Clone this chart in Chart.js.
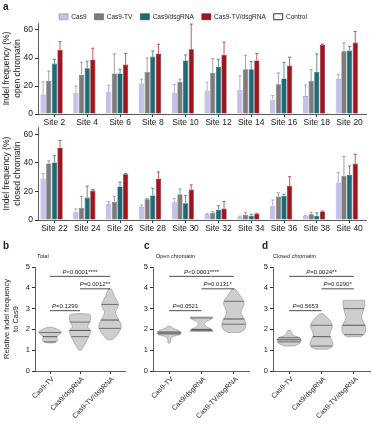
<!DOCTYPE html>
<html><head><meta charset="utf-8">
<script src="https://cdn.jsdelivr.net/npm/chart.js@4.4.0/dist/chart.umd.min.js"></script>
<style>
html,body{margin:0;padding:0;background:#fff;overflow:hidden;}
#wrap{position:relative;width:372px;height:430px;overflow:hidden;font-family:"Liberation Sans",Arial,sans-serif;color:#222;background:#fff;}
canvas{position:absolute;}
.lbl{position:absolute;line-height:1;white-space:nowrap;}
.pl{font-size:10px;font-weight:bold;}
.st{font-size:5.5px;}
</style></head><body>
<div id="wrap">
<canvas id="cOpen" width="406" height="132" style="left:0px;top:0px"></canvas>
<canvas id="cClosed" width="372" height="116" style="left:0px;top:120px"></canvas>
<canvas id="cTotal" width="128" height="190" style="left:0px;top:240px"></canvas>
<canvas id="cOpenV" width="130" height="190" style="left:120px;top:240px"></canvas>
<canvas id="cClosedV" width="132" height="190" style="left:240px;top:240px"></canvas>
<div class="lbl pl" style="left:3px;top:2px">a</div>
<div class="lbl pl" style="left:3px;top:241px">b</div>
<div class="lbl pl" style="left:144px;top:241px">c</div>
<div class="lbl pl" style="left:262px;top:241px">d</div>
<div class="lbl st" style="left:37px;top:254px">Total</div>
<div class="lbl st" style="left:156px;top:254px">Open chromatin</div>
<div class="lbl st" style="left:273px;top:254px">Closed chromatin</div>
</div>
<script>
// ---------- data: panel a ----------
const seriesNames = ['Cas9', 'Cas9-TV', 'Cas9/dsgRNA', 'Cas9-TV/dsgRNA', 'Control'];
const openSites = ['Site 2', 'Site 4', 'Site 6', 'Site 8', 'Site 10', 'Site 12', 'Site 14', 'Site 16', 'Site 18', 'Site 20'];
const openCas9 = [14, 15, 15.5, 21.8, 15, 16.7, 17.2, 10.2, 12.8, 25];
const openCas9TV = [23.7, 28, 29, 30, 23, 29.5, 32, 21.3, 23.7, 44.8];
const openDsg = [36, 32.7, 29, 41, 38.2, 33.6, 32, 25.4, 30, 45.3];
const openTVDsg = [45.7, 38.5, 35.3, 42.8, 46.2, 42.4, 38.3, 34.6, 49.4, 51];
const openControl = [0.5, 0.5, 0.5, 0.5, 0.5, 0.5, 0.5, 0.5, 0.5, 0.5];
const openCas9Sd = [9, 5, 5, 3, 6, 6, 10, 3, 8, 3];
const openCas9TVSd = [7, 9, 14, 10, 2, 10, 10, 8, 8, 6];
const openDsgSd = [3, 5, 3, 4, 4, 5.5, 5.5, 11.5, 13, 3];
const openTVDsgSd = [6, 8.5, 8, 7, 18, 9, 5, 6, 0.5, 8];

const closedSites = ['Site 22', 'Site 24', 'Site 26', 'Site 28', 'Site 30', 'Site 32', 'Site 34', 'Site 36', 'Site 38', 'Site 40'];
const closedCas9 = [29, 5.8, 11, 9.2, 12.5, 4, 2.2, 10, 3, 26.3];
const closedCas9TV = [39.6, 8.5, 12.8, 14.5, 18, 5, 3.6, 16.4, 4, 30.8];
const closedDsg = [40.3, 15.7, 23.5, 17.2, 11.8, 7.2, 3, 17, 3, 31.5];
const closedTVDsg = [50.3, 20.6, 32, 28.6, 21.3, 8, 4.3, 23.8, 6, 39.5];
const closedControl = [0.5, 0.5, 0.5, 0.5, 0.5, 0.5, 0.5, 0.5, 0.5, 0.5];
const closedCas9Sd = [3.4, 2, 1.8, 1.3, 2.5, 0.5, 0.5, 4, 0.3, 7];
const closedCas9TVSd = [1.8, 8, 3.7, 0.5, 3.7, 0.8, 1.8, 2.6, 1.4, 13.7];
const closedDsgSd = [4.7, 8, 3, 5, 5.4, 2.7, 1, 1, 2, 6.3];
const closedTVDsgSd = [5.4, 0.7, 0.5, 5, 3.3, 5, 0.4, 6.5, 0.3, 6.5];

const barTicks = [0, 20, 40, 60];

// ---------- data: panels b-d (violins) ----------
const violinGroups = ['Cas9-TV', 'Cas9/dsgRNA', 'Cas9-TV/dsgRNA'];
const violinTicks = [0, 1, 2, 3, 4, 5];
// profiles: [value, relative density width]
const totalProfiles = [
  [[1.35,0.2],[1.4,0.55],[1.5,0.7],[1.6,0.6],[1.7,0.7],[1.8,0.95],[1.9,1.0],[2.0,0.7],[2.1,0.2]],
  [[1.0,0.12],[1.2,0.35],[1.4,0.55],[1.6,0.75],[1.8,0.9],[1.95,0.95],[2.1,0.7],[2.2,0.72],[2.35,0.9],[2.5,0.95],[2.7,0.9],[2.75,0.5]],
  [[1.5,0.2],[1.7,0.6],[1.9,0.85],[2.1,1.0],[2.3,0.95],[2.5,0.75],[2.7,0.55],[2.85,0.5],[3.0,0.65],[3.2,0.75],[3.4,0.6],[3.6,0.4],[3.8,0.25],[3.95,0.12]]
];
const totalQuartiles = [[1.4, 1.65, 1.85], [1.65, 1.95, 2.35], [2.05, 2.45, 3.2]];
const totalPvals = [[0, 2, 4.55, 'P<0.0001****'], [1, 2, 3.95, 'P=0.0012**'], [0, 1, 2.9, 'P=0.1299']];

const openProfiles = [
  [[1.35,0.1],[1.5,0.12],[1.65,0.3],[1.75,0.9],[1.85,1.0],[1.95,0.8],[2.05,0.35],[2.15,0.12]],
  [[1.9,0.95],[2.0,0.85],[2.1,0.5],[2.25,0.25],[2.4,0.5],[2.5,0.85],[2.6,0.95]],
  [[1.85,0.5],[2.0,0.9],[2.2,1.0],[2.4,0.95],[2.6,0.75],[2.8,0.6],[3.0,0.7],[3.2,0.85],[3.4,0.8],[3.6,0.55],[3.8,0.3],[3.95,0.12]]
];
const openQuartiles = [[1.78, 1.83, 1.88], [1.95, 2.0, 2.55], [2.25, 2.5, 3.35]];
const openPvals = [[0, 2, 4.55, 'P<0.0001****'], [1, 2, 3.95, 'P=0.0131*'], [0, 1, 2.9, 'P=0.0521']];

const closedProfiles = [
  [[1.2,0.4],[1.3,0.8],[1.4,0.95],[1.5,1.0],[1.6,0.9],[1.7,0.4],[1.8,0.25],[1.95,0.12]],
  [[1.05,0.5],[1.15,0.85],[1.3,0.95],[1.5,0.85],[1.7,0.7],[1.9,0.75],[2.1,0.9],[2.3,0.85],[2.5,0.6],[2.65,0.35],[2.75,0.15]],
  [[1.65,0.6],[1.8,0.9],[2.0,1.0],[2.2,0.95],[2.4,0.75],[2.6,0.65],[2.8,0.75],[3.0,0.85],[3.2,0.9],[3.4,0.9]]
];
const closedQuartiles = [[1.4, 1.5, 1.6], [1.2, 1.65, 2.2], [1.75, 2.2, 3.0]];
const closedPvals = [[0, 2, 4.55, 'P=0.0024**'], [1, 2, 3.95, 'P=0.0290*'], [0, 1, 2.9, 'P=0.5653']];

// ---------- styles ----------
const FONT = '"Liberation Sans", Arial, sans-serif';
Chart.defaults.font.family = FONT;
Chart.defaults.color = '#222';
const fillColors = ['#c5c1ea', '#7c7c7c', '#1d6b78', '#a0141e', '#ffffff'];
const edgeColors = ['#8f8ac4', '#5e5e5e', '#114e59', '#700b13', '#000000'];
const errColors = ['#9a95d0', '#8a8a8a', '#2a7c89', '#b5303a', '#000000'];
const AX = '#333';

const errorBarPlugin = {
  id: 'errbars',
  afterDatasetsDraw(chart) {
    const ctx = chart.ctx, y = chart.scales.y;
    chart.data.datasets.forEach((ds, i) => {
      if (!ds.sd) return;
      const meta = chart.getDatasetMeta(i);
      ctx.save();
      ctx.strokeStyle = ds.errColor;
      ctx.lineWidth = 0.8;
      meta.data.forEach((bar, j) => {
        const top = y.getPixelForValue(ds.data[j] + ds.sd[j]);
        ctx.beginPath();
        ctx.moveTo(bar.x, bar.y);
        ctx.lineTo(bar.x, top);
        ctx.moveTo(bar.x - 1.6, top);
        ctx.lineTo(bar.x + 1.6, top);
        ctx.stroke();
      });
      ctx.restore();
    });
  }
};

function makeBars(id, labels, series, sds, yTitle, showLegend, padTop, padRight, xH) {
  const datasets = series.map((vals, i) => ({
    label: seriesNames[i],
    data: vals,
    sd: sds[i],
    errColor: errColors[i],
    backgroundColor: fillColors[i],
    borderColor: edgeColors[i],
    borderWidth: i === 4 ? 0.8 : 0.6,
    categoryPercentage: 0.86,
    barPercentage: 0.92
  }));
  return new Chart(document.getElementById(id), {
    type: 'bar',
    data: { labels, datasets },
    options: {
      responsive: false, animation: false, devicePixelRatio: 1,
      layout: { padding: { top: padTop, right: padRight, left: 0, bottom: 0 } },
      plugins: {
        tooltip: { enabled: false },
        legend: showLegend ? {
          display: true, position: 'top', align: 'center', maxHeight: 17.5,
          labels: { boxWidth: 9, boxHeight: 6, padding: 8, font: { size: 6.5 }, color: '#222' }
        } : { display: false }
      },
      scales: {
        x: {
          grid: { display: true, drawOnChartArea: false, tickLength: 3, offset: false, color: AX },
          border: { color: AX, width: 0.8 },
          ticks: { font: { size: 8.5 }, color: '#222', padding: 1, maxRotation: 0, autoSkip: false },
          afterFit(s) { s.height = xH; }
        },
        y: {
          min: 0, max: 65,
          afterBuildTicks(s) { s.ticks = barTicks.map(v => ({ value: v })); },
          ticks: { font: { size: 8.5 }, color: '#222', padding: 2 },
          grid: { drawOnChartArea: false, tickLength: 3, color: AX },
          border: { color: AX, width: 0.8 },
          title: { display: true, text: yTitle, font: { size: 8.5 }, color: '#222', padding: { top: 2, bottom: 0 } },
          afterFit(s) { s.width = 38; }
        }
      }
    },
    plugins: [errorBarPlugin]
  });
}

makeBars('cOpen', openSites,
  [openCas9, openCas9TV, openDsg, openTVDsg, openControl],
  [openCas9Sd, openCas9TVSd, openDsgSd, openTVDsgSd, null],
  ['Indel frequency (%)', 'open chromatin'], true, 5.5, 40, 18);
makeBars('cClosed', closedSites,
  [closedCas9, closedCas9TV, closedDsg, closedTVDsg, closedControl],
  [closedCas9Sd, closedCas9TVSd, closedDsgSd, closedTVDsgSd, null],
  ['Indel frequency (%)', 'closed chromatin'], false, 4, 6, 16);

// ---------- violins ----------
function widthAt(prof, v) {
  if (v <= prof[0][0]) return prof[0][1];
  for (let i = 0; i < prof.length - 1; i++) {
    const a = prof[i], b = prof[i + 1];
    if (v >= a[0] && v <= b[0]) return a[1] + (b[1] - a[1]) * (v - a[0]) / (b[0] - a[0]);
  }
  return prof[prof.length - 1][1];
}
function curveThrough(ctx, pts, first) {
  if (first) ctx.moveTo(pts[0][0], pts[0][1]); else ctx.lineTo(pts[0][0], pts[0][1]);
  for (let i = 0; i < pts.length - 1; i++) {
    const p0 = pts[i - 1] || pts[i], p1 = pts[i], p2 = pts[i + 1], p3 = pts[i + 2] || p2;
    ctx.bezierCurveTo(p1[0] + (p2[0] - p0[0]) / 6, p1[1] + (p2[1] - p0[1]) / 6,
                      p2[0] - (p3[0] - p1[0]) / 6, p2[1] - (p3[1] - p1[1]) / 6, p2[0], p2[1]);
  }
}
const violinPlugin = {
  id: 'violins',
  afterDatasetsDraw(chart, args, opts) {
    const { ctx } = chart, x = chart.scales.x, y = chart.scales.y;
    const catW = x.getPixelForValue(1) - x.getPixelForValue(0);
    const maxHalf = catW * 0.37;
    opts.profiles.forEach((prof, i) => {
      const xc = x.getPixelForValue(i);
      const right = prof.map(([v, w]) => [xc + w * maxHalf, y.getPixelForValue(v)]);
      const left = prof.slice().reverse().map(([v, w]) => [xc - w * maxHalf, y.getPixelForValue(v)]);
      ctx.save();
      ctx.beginPath();
      curveThrough(ctx, right, true);
      curveThrough(ctx, left, false);
      ctx.closePath();
      ctx.fillStyle = '#cecece';
      ctx.fill();
      ctx.strokeStyle = '#9c9c9c';
      ctx.lineWidth = 0.7;
      ctx.stroke();
      opts.quartiles[i].forEach((q, k) => {
        const w = widthAt(prof, q) * maxHalf;
        const yy = y.getPixelForValue(q);
        ctx.beginPath();
        ctx.moveTo(xc - w, yy);
        ctx.lineTo(xc + w, yy);
        ctx.strokeStyle = '#555';
        ctx.lineWidth = k === 1 ? 1 : 0.8;
        ctx.stroke();
      });
      ctx.restore();
    });
    opts.pvals.forEach(([a, b, v, txt]) => {
      const x1 = x.getPixelForValue(a), x2 = x.getPixelForValue(b), yy = y.getPixelForValue(v);
      ctx.save();
      ctx.strokeStyle = '#222';
      ctx.lineWidth = 0.8;
      ctx.beginPath(); ctx.moveTo(x1, yy); ctx.lineTo(x2, yy); ctx.stroke();
      const fs = 6;
      const head = txt.charAt(0), rest = txt.slice(1);
      ctx.font = 'italic ' + fs + 'px ' + FONT;
      const wh = ctx.measureText(head).width;
      ctx.font = fs + 'px ' + FONT;
      const wr = ctx.measureText(rest).width;
      const sx = (x1 + x2) / 2 - (wh + wr) / 2;
      ctx.fillStyle = '#222';
      ctx.textBaseline = 'bottom';
      ctx.textAlign = 'left';
      ctx.font = 'italic ' + fs + 'px ' + FONT;
      ctx.fillText(head, sx, yy - 1.5);
      ctx.font = fs + 'px ' + FONT;
      ctx.fillText(rest, sx + wh, yy - 1.5);
      ctx.restore();
    });
  }
};

function makeViolin(id, profiles, quartiles, pvals, yTitle, yWidth, padRight) {
  return new Chart(document.getElementById(id), {
    type: 'line',
    data: { labels: violinGroups, datasets: [{ data: quartiles.map(q => q[1]), showLine: false, pointRadius: 0 }] },
    options: {
      responsive: false, animation: false, devicePixelRatio: 1,
      layout: { padding: { top: 27, right: padRight, left: 0, bottom: 0 } },
      plugins: { legend: { display: false }, tooltip: { enabled: false }, violins: { profiles, quartiles, pvals } },
      scales: {
        x: {
          offset: true,
          grid: { display: true, drawOnChartArea: false, tickLength: 3, offset: false, color: AX },
          border: { color: AX, width: 0.8 },
          ticks: { maxRotation: 45, minRotation: 45, font: { size: 7 }, color: '#222', padding: 1, autoSkip: false, labelOffset: 3 },
          afterFit(s) { s.height = 59; }
        },
        y: {
          min: 0, max: 5,
          afterBuildTicks(s) { s.ticks = violinTicks.map(v => ({ value: v })); },
          ticks: { font: { size: 7.5 }, color: '#222', padding: 2 },
          grid: { drawOnChartArea: false, tickLength: 3, color: AX },
          border: { color: AX, width: 0.8 },
          title: yTitle ? { display: true, text: yTitle, font: { size: 7.5 }, color: '#222', padding: { top: 2, bottom: 0 } } : { display: false },
          afterFit(s) { s.width = yWidth; }
        }
      }
    },
    plugins: [violinPlugin]
  });
}
makeViolin('cTotal', totalProfiles, totalQuartiles, totalPvals, ['Relative indel frequency', 'to Cas9'], 35, 3);
makeViolin('cOpenV', openProfiles, openQuartiles, openPvals, null, 33, 0);
makeViolin('cClosedV', closedProfiles, closedQuartiles, closedPvals, null, 33, 2);
</script>
</body></html>
